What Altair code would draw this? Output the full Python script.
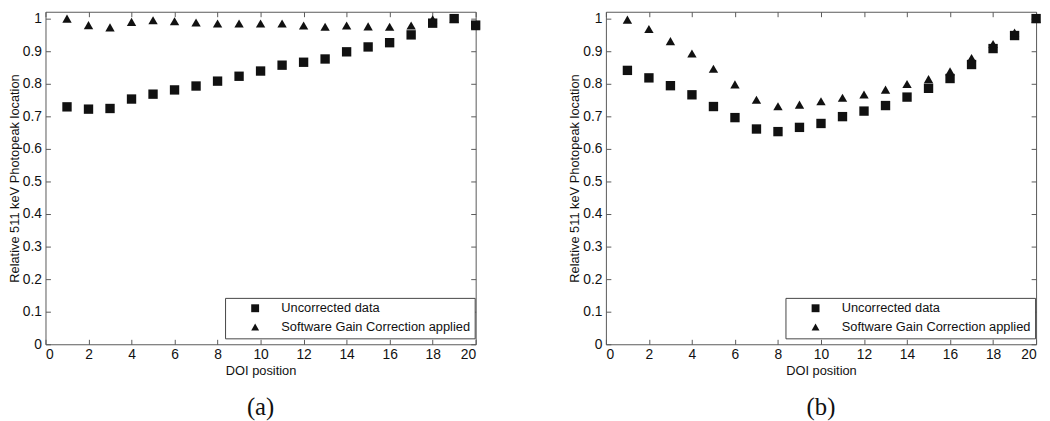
import altair as alt
import pandas as pd

# ---- data ----
doi = list(range(1, 21))
series = ["Uncorrected data", "Software Gain Correction applied"]

a_uncorrected = [0.729, 0.722, 0.724, 0.753, 0.768, 0.781, 0.793, 0.808, 0.823, 0.839,
                 0.857, 0.866, 0.876, 0.898, 0.913, 0.926, 0.950, 0.986, 1.000, 0.980]
a_corrected = [1.000, 0.980, 0.973, 0.990, 0.995, 0.992, 0.988, 0.985, 0.985, 0.985,
               0.985, 0.979, 0.975, 0.979, 0.976, 0.975, 0.979, 0.998, 1.000, 0.977]

b_uncorrected = [0.841, 0.818, 0.794, 0.766, 0.730, 0.696, 0.661, 0.653, 0.666, 0.678,
                 0.699, 0.716, 0.733, 0.759, 0.786, 0.816, 0.859, 0.908, 0.948, 1.000]
b_corrected = [0.997, 0.968, 0.931, 0.893, 0.846, 0.798, 0.751, 0.731, 0.736, 0.746,
               0.757, 0.767, 0.782, 0.799, 0.814, 0.838, 0.879, 0.922, 0.957, 1.000]

x_ticks = [0, 2, 4, 6, 8, 10, 12, 14, 16, 18, 20]
y_ticks = [0.0, 0.1, 0.2, 0.3, 0.4, 0.5, 0.6, 0.7, 0.8, 0.9, 1.0]
captions = ["(a)", "(b)"]
x_title = "DOI position"
y_title = "Relative 511 keV Photopeak location"

# ---- styling ----
INK = "#111111"
FRAME = "#585858"
SANS = "Liberation Sans"
SERIF = "Liberation Serif"
W = 436
H = 337
YMAX = 1.021


def panel(unc, cor, caption):
    df = pd.DataFrame({
        "doi": doi + doi,
        "value": unc + cor,
        "series": [series[0]] * len(doi) + [series[1]] * len(doi),
    })
    xs = alt.Scale(domain=[0, 20], nice=False, zero=False)
    ys = alt.Scale(domain=[0, YMAX], nice=False)

    pts = alt.Chart(df).mark_point(filled=True, opacity=1, color=INK, strokeWidth=0, size=90).encode(
        x=alt.X("doi:Q", scale=xs,
                axis=alt.Axis(values=x_ticks, orient="bottom", offset=-5, tickSize=5, grid=False,
                              domain=False, labelPadding=3, title=x_title, titlePadding=4)),
        y=alt.Y("value:Q", scale=ys,
                axis=alt.Axis(values=y_ticks, format="~g", orient="left", offset=-5, grid=False,
                              tickSize=5, domain=False, labelPadding=4, title=y_title,
                              titlePadding=1)),
        shape=alt.Shape("series:N",
                        scale=alt.Scale(domain=series, range=["square", "triangle-up"]),
                        legend=alt.Legend(title=None, orient="none", legendX=182, legendY=290,
                                          strokeColor="#444444", padding=4, symbolOffset=20,
                                          labelOffset=20, rowPadding=5, symbolSize=64,
                                          symbolFillColor=INK, symbolStrokeWidth=0,
                                          labelFont=SANS, labelFontSize=13, labelColor=INK,
                                          labelLimit=400, fillColor="white")),
    )

    ticks = alt.Chart(df).mark_point(opacity=0).encode(
        x=alt.X("doi:Q", scale=xs,
                axis=alt.Axis(values=x_ticks, orient="top", offset=-5, tickSize=5, grid=False,
                              domain=False, labels=False, title=None)),
        y=alt.Y("value:Q", scale=ys,
                axis=alt.Axis(values=y_ticks, orient="right", offset=-5, tickSize=5, grid=False,
                              domain=False, labels=False, title=None)),
    )

    return alt.layer(pts, ticks).resolve_axis(x="independent", y="independent").properties(
        width=W, height=H,
        title=alt.TitleParams(caption, orient="bottom", font=SERIF, fontSize=25,
                              fontWeight="normal", color=INK, offset=18, anchor="middle"),
    )


chart = alt.hconcat(
    panel(a_uncorrected, a_corrected, captions[0]),
    panel(b_uncorrected, b_corrected, captions[1]),
    spacing=88,
).resolve_legend(shape="independent").properties(
    padding=0, background="white"
).configure_view(
    stroke=FRAME, strokeWidth=1
).configure_axis(
    grid=False, labelFont=SANS, labelFontSize=14, labelColor=INK,
    titleFont=SANS, titleFontSize=13, titleFontWeight="normal", titleColor=INK,
    tickColor=FRAME, tickWidth=1
)

chart.save("out.html", embed_options={"renderer": "svg", "actions": False})
